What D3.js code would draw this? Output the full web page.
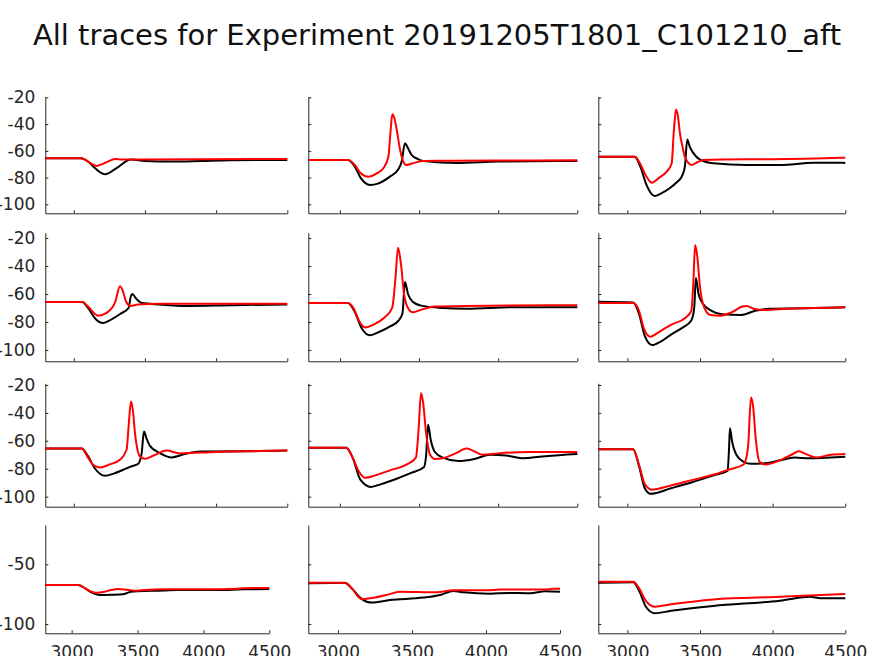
<!DOCTYPE html>
<html>
<head>
<meta charset="utf-8">
<script src="https://cdn.jsdelivr.net/npm/d3@7"></script>
<style>
  html, body { margin: 0; padding: 0; background: #fff; }
  svg { display: block; }
  .domain, .tick line { stroke: #262626; }
</style>
</head>
<body>
<svg id="chart" width="874" height="656"></svg>
<script>
// ---------------- DATA ----------------
const chartTitle = "All traces for Experiment 20191205T1801_C101210_aft";
const xTicks = [3000, 3500, 4000, 4500];
const xDomain = [2800, 4500];
const yTicksUpper = [-100, -80, -60, -40, -20];
const yTicksLower = [-100, -50];
const yDomains = [[-106.7, -19.5], [-108.1, -16.2], [-107.2, -18.8], [-107.8, -17.1]];

// black traces, row by row (row1 c1..c3, row2 ..., row4), [time, mV]
const blackTraces = [
  [[2800,-65.5],[3050,-65.5],[3100,-68],[3150,-73],[3220,-77.5],[3300,-73],[3400,-66.5],[3500,-67.5],[3700,-68],[3900,-67.5],[4100,-67],[4500,-66.8]],
  [[2800,-66.8],[3050,-66.8],[3090,-71],[3130,-80],[3190,-85.5],[3240,-84.5],[3316,-79.3],[3369,-73.8],[3390,-68],[3411,-54.3],[3430,-58],[3453,-63.1],[3490,-66],[3527,-67.6],[3738,-69],[4000,-68],[4500,-67.5]],
  [[2800,-64.4],[3050,-64.4],[3090,-72],[3130,-85],[3188,-93.7],[3230,-92],[3291,-88],[3340,-83.5],[3374,-79.3],[3396,-71.8],[3412,-51.6],[3430,-57],[3453,-61.5],[3500,-66.5],[3591,-69.3],[3821,-70.6],[4050,-70.6],[4280,-68.9],[4500,-69]],
  [[2800,-65.7],[3060,-65.7],[3100,-70],[3150,-77.5],[3205,-80.8],[3250,-79],[3330,-74],[3385,-70],[3400,-62],[3410,-60],[3440,-63.5],[3480,-66.5],[3600,-67.5],[3800,-68.5],[4100,-68],[4500,-67.5]],
  [[2800,-66.5],[3050,-66.5],[3090,-72],[3140,-85],[3190,-89.5],[3250,-87],[3320,-83],[3370,-79],[3395,-74],[3411,-51.5],[3430,-60],[3460,-65.5],[3520,-68.5],[3650,-70],[3800,-70.5],[4100,-69.5],[4500,-69.5]],
  [[2800,-65.5],[3040,-66],[3080,-74],[3120,-90],[3170,-96.5],[3230,-94],[3300,-89],[3380,-84],[3440,-79],[3460,-70],[3472,-48.5],[3490,-60],[3520,-67],[3580,-72],[3650,-74.5],[3780,-75],[3880,-72],[3980,-70.5],[4200,-70.2],[4500,-69.5]],
  [[2800,-65.5],[3056,-65.5],[3100,-71],[3150,-80],[3219,-85],[3280,-83.5],[3348,-80.7],[3400,-78.5],[3453,-76.4],[3477,-68.8],[3493,-53.4],[3510,-58],[3535,-63.6],[3605,-68.8],[3688,-71.9],[3780,-69.5],[3886,-67.6],[4200,-67.5],[4500,-67]],
  [[2800,-65],[3040,-65],[3080,-72],[3130,-88],[3196,-93],[3260,-91],[3350,-87.5],[3450,-83],[3530,-79],[3545,-70],[3557,-48.5],[3575,-60],[3600,-68],[3650,-72],[3750,-74.5],[3850,-73],[3950,-70],[4050,-70.5],[4150,-72.5],[4300,-71],[4500,-69.5]],
  [[2800,-66],[3040,-66],[3080,-78],[3120,-94],[3160,-98],[3300,-94],[3450,-89.5],[3600,-84.5],[3690,-81.5],[3700,-65],[3706,-51],[3720,-60],[3750,-70],[3800,-75],[3850,-76.5],[3950,-76],[4050,-74],[4150,-72],[4250,-72.5],[4400,-72],[4500,-71.5]],
  [[2800,-67.3],[3050,-67.3],[3100,-70],[3150,-73.5],[3215,-75.7],[3300,-75.5],[3392,-75],[3450,-73],[3500,-72.5],[3700,-72],[3800,-71.5],[4100,-71.5],[4300,-71],[4500,-70.7]],
  [[2800,-65.8],[3048,-65.6],[3100,-71],[3160,-79],[3228,-82.1],[3350,-80],[3577,-77.9],[3690,-75.7],[3780,-72.3],[3850,-73.5],[4027,-74.6],[4150,-74],[4298,-74.3],[4400,-72.5],[4500,-73]],
  [[2800,-65.5],[3041,-65],[3080,-72],[3130,-86],[3190,-91],[3300,-89],[3591,-84.9],[4050,-80.5],[4257,-77.2],[4330,-78.5],[4500,-78.5]]
];

// red traces, same order
const redTraces = [
  [[2800,-65.5],[3055,-65.5],[3100,-68],[3160,-71.3],[3230,-68.5],[3290,-66],[3340,-66.5],[3500,-66.5],[4500,-66]],
  [[2800,-66.8],[3050,-66.8],[3090,-70],[3130,-76.5],[3179,-79.3],[3230,-77],[3274,-73],[3306,-64.4],[3320,-45],[3331,-32.7],[3345,-36],[3359,-44.4],[3380,-59.3],[3400,-68],[3420,-70.6],[3470,-69],[3527,-67.5],[4000,-67.3],[4500,-67]],
  [[2800,-64.4],[3053,-64.4],[3090,-70],[3130,-79],[3167,-83.8],[3220,-80],[3271,-75.6],[3305,-69.3],[3320,-45],[3335,-29],[3348,-34],[3362,-46.9],[3380,-57],[3396,-64.4],[3443,-70.6],[3480,-68.5],[3523,-66.8],[4000,-66.2],[4300,-65.8],[4500,-65.1]],
  [[2800,-65.7],[3060,-65.7],[3100,-69],[3170,-75.5],[3230,-73.5],[3290,-66],[3325,-54.5],[3345,-58],[3370,-66],[3400,-68.5],[3450,-67.5],[3600,-67],[4500,-67]],
  [[2800,-66.5],[3050,-66.5],[3090,-71],[3120,-79],[3158,-84],[3210,-82],[3280,-77],[3330,-70],[3350,-50],[3367,-27],[3385,-38],[3405,-60],[3430,-70],[3460,-73],[3520,-71],[3600,-69],[3800,-68.5],[4500,-68]],
  [[2800,-66.5],[3040,-66.5],[3080,-72],[3115,-85],[3156,-90.5],[3220,-87],[3300,-82],[3400,-77],[3440,-72],[3455,-50],[3466,-25],[3480,-32],[3500,-55],[3530,-70],[3570,-75],[3640,-75.5],[3720,-73],[3790,-69],[3820,-68.5],[3870,-70.5],[3950,-71.5],[4100,-70.5],[4300,-70],[4500,-69.5]],
  [[2800,-65.5],[3056,-65.5],[3100,-72],[3140,-77.5],[3184,-79.1],[3250,-77],[3324,-73.6],[3371,-66.4],[3385,-50],[3402,-31.9],[3415,-38],[3430,-54.5],[3465,-71.2],[3500,-72.9],[3560,-70.5],[3652,-67],[3745,-69],[4000,-68],[4500,-67]],
  [[2800,-65],[3040,-65],[3080,-72],[3120,-82],[3158,-86.5],[3230,-84.5],[3320,-81],[3420,-77],[3480,-72],[3498,-50],[3512,-26],[3525,-32],[3545,-55],[3570,-70],[3600,-73],[3650,-72.5],[3730,-69],[3800,-65.5],[3840,-67],[3900,-70],[4000,-69],[4200,-68],[4500,-68]],
  [[2800,-66],[3040,-66],[3080,-77],[3120,-91],[3168,-95],[3300,-92],[3450,-88],[3600,-84],[3700,-80.5],[3800,-77],[3830,-65],[3851,-29],[3865,-35],[3885,-60],[3910,-75],[3950,-77],[4050,-74],[4130,-70],[4180,-67.5],[4230,-69.5],[4300,-72],[4400,-70],[4500,-69.5]],
  [[2800,-67.3],[3050,-67.3],[3100,-70],[3150,-73],[3190,-73.8],[3250,-73],[3300,-71.5],[3354,-70.7],[3420,-71.3],[3493,-72.1],[3560,-71.5],[3700,-71],[4000,-71],[4250,-70.5],[4300,-70],[4500,-69.9]],
  [[2800,-65.4],[3048,-65.4],[3100,-71],[3140,-77.5],[3161,-79.1],[3250,-77.8],[3350,-75],[3420,-73],[3667,-73.5],[3780,-71.8],[4000,-71.8],[4100,-71.2],[4400,-71.2],[4450,-70.4],[4500,-70.4]],
  [[2800,-64.6],[3041,-64.6],[3080,-70],[3130,-81],[3190,-85.5],[3300,-83.5],[3591,-79.4],[4050,-77.2],[4500,-74.9]]
];

// ---------------- LAYOUT ----------------
const rowBox = [[96.7, 213.3], [232.7, 361.3], [383.3, 506.7], [525, 633.3]];
const colBoxUpper = [[45.3, 287.3], [308.3, 577.3], [598.3, 845.3]];
const colBoxLower = [[45.3, 269.3], [308.3, 560], [598.3, 845.3]];

const svg = d3.select("#chart");

svg.append("text")
  .attr("x", 437).attr("y", 45)
  .attr("text-anchor", "middle")
  .style("font-family", "'DejaVu Sans', sans-serif")
  .style("font-size", "29px")
  .attr("fill", "#111")
  .text(chartTitle);

for (let r = 0; r < 4; r++) {
  for (let c = 0; c < 3; c++) {
    const idx = r * 3 + c;
    const cb = (r === 3 ? colBoxLower : colBoxUpper)[c];
    const x = d3.scaleLinear().domain(xDomain).range(cb);
    const y = d3.scaleLinear().domain(yDomains[r]).range([rowBox[r][1], rowBox[r][0]]);
    const g = svg.append("g");

    const xAxis = d3.axisBottom(x).tickValues(xTicks).tickSizeInner(-3).tickSizeOuter(0).tickPadding(13);
    if (r < 3) xAxis.tickFormat("");
    else xAxis.tickFormat(d3.format("d"));
    g.append("g").attr("transform", `translate(0,${rowBox[r][1]})`).call(xAxis);

    const yAxis = d3.axisLeft(y).tickValues(r < 3 ? yTicksUpper : yTicksLower)
      .tickSizeInner(-3).tickSizeOuter(0).tickPadding(10).tickFormat(c === 0 ? d3.format("d") : "");
    g.append("g").attr("transform", `translate(${cb[0]},0)`).call(yAxis);

    const line = d3.line().x(d => x(d[0])).y(d => y(d[1])).curve(d3.curveMonotoneX);
    g.append("path").datum(blackTraces[idx]).attr("d", line)
      .attr("fill", "none").attr("stroke", "#000").attr("stroke-width", 2);
    g.append("path").datum(redTraces[idx]).attr("d", line)
      .attr("fill", "none").attr("stroke", "#ff0000").attr("stroke-width", 2);
  }
}
svg.selectAll(".tick text")
  .style("font-family", "'DejaVu Sans', sans-serif")
  .style("font-size", "17px")
  .attr("fill", "#262626")
  .text(function() { return this.textContent.replace("−", "-"); });
</script>
</body>
</html>
